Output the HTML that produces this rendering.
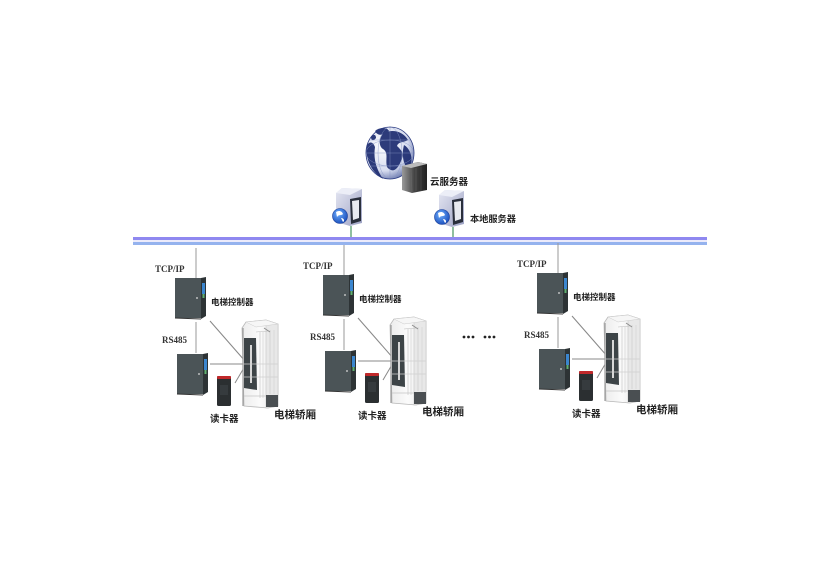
<!DOCTYPE html>
<html><head><meta charset="utf-8">
<style>
html,body{margin:0;padding:0;background:#fff;}
svg{display:block;}
.t{font-family:"Liberation Sans","Noto Sans CJK SC",sans-serif;font-weight:bold;fill:#222;}
.s{font-family:"Liberation Serif","Noto Serif CJK SC",serif;font-weight:bold;fill:#333;font-size:9px;}
</style></head>
<body>
<svg width="830" height="567" viewBox="0 0 830 567" xmlns="http://www.w3.org/2000/svg">
<defs>
  <radialGradient id="glb" cx="0.38" cy="0.35" r="0.7">
    <stop offset="0" stop-color="#ffffff"/>
    <stop offset="0.7" stop-color="#d6dcef"/>
    <stop offset="1" stop-color="#6a78ad"/>
  </radialGradient>
  <linearGradient id="tower" x1="0" y1="0" x2="1" y2="0">
    <stop offset="0" stop-color="#9a9a9a"/>
    <stop offset="0.5" stop-color="#444"/>
    <stop offset="1" stop-color="#222"/>
  </linearGradient>
  <linearGradient id="srv" x1="0" y1="0" x2="1" y2="1">
    <stop offset="0" stop-color="#e4e6f2"/>
    <stop offset="1" stop-color="#9da2c4"/>
  </linearGradient>
  <radialGradient id="bglobe" cx="0.4" cy="0.35" r="0.7">
    <stop offset="0" stop-color="#6fb0ff"/>
    <stop offset="1" stop-color="#1649b8"/>
  </radialGradient>
  <linearGradient id="elev" x1="0" y1="0" x2="1" y2="0">
    <stop offset="0" stop-color="#ececec"/>
    <stop offset="0.5" stop-color="#fbfbfb"/>
    <stop offset="1" stop-color="#e2e2e2"/>
  </linearGradient>

  <g id="ctrl">
    <rect x="0" y="0" width="26" height="40" fill="#4b5457"/>
    <polygon points="26,0 31,-1 31,38 26,41" fill="#2d3335"/>
    <rect x="27" y="5" width="3" height="11" fill="#3b86cf"/>
    <rect x="27.5" y="16" width="2" height="4" fill="#5fb070"/>
    <circle cx="22" cy="20" r="0.9" fill="#ddd"/>
    <line x1="0" y1="40" x2="26" y2="41" stroke="#333" stroke-width="1"/>
  </g>

  <g id="elevator">
    <path d="M0,8 L4,2 L24,0 L36,4 L36,86 L26,88 L2,86 Z" fill="url(#elev)" stroke="#b8b8b8" stroke-width="0.8"/>
    <polygon points="24,0 36,4 36,86 24,88" fill="#e8e8e8" stroke="#c8c8c8" stroke-width="0.6"/>
    <polygon points="4,2 24,0 36,4 14,7" fill="#f6f6f6" stroke="#ccc" stroke-width="0.5"/>
    <line x1="1" y1="8" x2="1" y2="86" stroke="#9a9a9a" stroke-width="1.2"/>
    <path d="M2,18 L14,18 L15,70 L2,68 Z" fill="#3d4447"/>
    <rect x="8" y="25" width="2" height="38" fill="#d8d8d8"/>
    <line x1="18" y1="12" x2="18" y2="78" stroke="#cfcfcf" stroke-width="0.8"/>
    <line x1="21" y1="12" x2="21" y2="78" stroke="#d8d8d8" stroke-width="0.8"/>
    <line x1="28" y1="10" x2="28" y2="74" stroke="#d0d0d0" stroke-width="0.8"/>
    <line x1="32" y1="10" x2="32" y2="74" stroke="#d6d6d6" stroke-width="0.8"/>
    <line x1="2" y1="44" x2="36" y2="44" stroke="#cfcfcf" stroke-width="0.8"/>
    <line x1="2" y1="57" x2="36" y2="57" stroke="#cfcfcf" stroke-width="0.8"/>
    <line x1="14" y1="12" x2="26" y2="11" stroke="#bbb" stroke-width="0.6"/>
    <path d="M22,8 L28,12" stroke="#888" stroke-width="0.8"/>
    <rect x="24" y="75" width="12" height="12" fill="#4a4f52"/>
    <line x1="2" y1="76" x2="24" y2="76" stroke="#c4c4c4" stroke-width="0.8"/>
  </g>

  <g id="reader">
    <rect x="0" y="0" width="14" height="30" rx="1.5" fill="#2b2f31"/>
    <rect x="0" y="0" width="14" height="3" rx="1" fill="#c0282a"/>
    <rect x="3" y="9" width="8" height="10" fill="#363b3e"/>
  </g>

  <g id="group">
    <line x1="344" y1="245" x2="344" y2="275" stroke="#9a9a9a" stroke-width="1"/>
    <line x1="344" y1="319" x2="344" y2="350" stroke="#9a9a9a" stroke-width="1"/>
    <line x1="358" y1="318" x2="393" y2="358" stroke="#888" stroke-width="1"/>
    <line x1="358" y1="361" x2="393" y2="361" stroke="#888" stroke-width="1"/>
    <line x1="383" y1="380" x2="393" y2="363" stroke="#888" stroke-width="1"/>
    <use href="#elevator" x="390" y="317"/>
    <use href="#ctrl" x="323" y="275"/>
    <use href="#ctrl" x="325" y="351"/>
    <use href="#reader" x="365" y="373"/>
    <text class="s" x="303" y="269">TCP/IP</text>
    <text class="s" x="310" y="340">RS485</text>
    <text class="t" x="359" y="302" font-size="8.5">电梯控制器</text>
    <text class="t" x="358" y="419" font-size="9.5">读卡器</text>
    <text class="t" x="422" y="415" font-size="10.5">电梯轿厢</text>
  </g>
</defs>

<!-- bus -->
<rect x="133" y="237" width="574" height="3" fill="#8f88f0"/>
<rect x="133" y="240" width="574" height="2" fill="#ecebfb"/>
<rect x="133" y="242" width="574" height="3" fill="#95b3ee"/>

<!-- globe -->
<ellipse cx="390" cy="153" rx="24" ry="26" fill="url(#glb)"/>
<g fill="#1d2c70" opacity="0.92">
  <path d="M367,145 C365,157 370,171 383,179 C377,170 373,160 375,147 C373,142 370,141 367,145 Z"/>
  <path d="M384,133 C392,129 403,131 408,140 C403,143 399,141 397,146 C401,150 405,153 401,161 C397,171 392,173 387,167 C385,159 389,153 383,149 C378,146 379,137 384,133 Z"/>
  <path d="M404,145 C411,149 414,160 409,170 C404,166 401,156 404,145 Z"/>
  <path d="M375,131 C380,127 387,127 389,131 C384,135 378,137 375,131 Z"/>
  <path d="M371,137 C373,134 376,134 376,138 C374,141 371,141 371,137 Z"/>
</g>
<g stroke="#8594c4" stroke-width="0.5" fill="none" opacity="0.8">
  <ellipse cx="390" cy="153" rx="12" ry="26"/>
  <ellipse cx="390" cy="153" rx="24" ry="13"/>
  <line x1="390" y1="127" x2="390" y2="179"/>
  <line x1="366" y1="153" x2="414" y2="153"/>
  <line x1="369" y1="140" x2="411" y2="140"/>
  <line x1="369" y1="166" x2="411" y2="166"/>
</g>
<ellipse cx="390" cy="153" rx="24" ry="26" fill="none" stroke="#2a3a80" stroke-width="0.8"/>

<!-- cloud server tower -->
<polygon points="402,166 418,162 427,164 427,190 412,193 402,190" fill="url(#tower)"/>
<polygon points="402,166 418,162 427,164 411,168" fill="#bbb"/>
<line x1="411" y1="168" x2="412" y2="193" stroke="#666" stroke-width="0.7"/>
<line x1="416" y1="168" x2="416" y2="191" stroke="#666" stroke-width="0.5"/>
<line x1="421" y1="167" x2="421" y2="191" stroke="#555" stroke-width="0.5"/>
<text class="t" x="430" y="185" font-size="9.5">云服务器</text>

<!-- local server 1 -->
<line x1="351" y1="226" x2="351" y2="237" stroke="#8fbf9f" stroke-width="2"/>
<polygon points="336,193 342,188 362,189 362,223 350,226 336,222" fill="url(#srv)"/>
<polygon points="336,193 342,188 362,189 350,195" fill="#eceef7"/>
<polygon points="350,199 361,197 361,221 351,224" fill="#2a2f3c"/>
<polygon points="352,201 359,200 359,218 353,220" fill="#e8eaf0"/>
<circle cx="340" cy="216" r="7.5" fill="url(#bglobe)" stroke="#1a3d96" stroke-width="0.6"/>
<path d="M336,212 C339,210 342,211 343,214 C341,216 339,214 337,217 Z M341,218 C344,218 345,221 343,222 Z" fill="#fff"/>

<!-- local server 2 -->
<line x1="453" y1="227" x2="453" y2="237" stroke="#8fbf9f" stroke-width="2"/>
<polygon points="439,195 445,190 464,191 464,224 452,227 439,223" fill="url(#srv)"/>
<polygon points="439,195 445,190 464,191 452,197" fill="#eceef7"/>
<polygon points="452,200 463,198 463,222 453,225" fill="#2a2f3c"/>
<polygon points="454,202 461,201 461,219 455,221" fill="#e8eaf0"/>
<circle cx="442" cy="217" r="7.5" fill="url(#bglobe)" stroke="#1a3d96" stroke-width="0.6"/>
<path d="M438,213 C441,211 444,212 445,215 C443,217 441,215 439,218 Z M443,219 C446,219 447,222 445,223 Z" fill="#fff"/>
<text class="t" x="470" y="222" font-size="9.2">本地服务器</text>

<!-- groups -->
<use href="#group" x="-148" y="3"/>
<use href="#group" x="0" y="0"/>
<use href="#group" x="214" y="-2"/>

<!-- dots -->
<g fill="#222">
  <circle cx="464" cy="337" r="1.4"/><circle cx="468.5" cy="337" r="1.4"/><circle cx="473" cy="337" r="1.4"/>
  <circle cx="485" cy="337" r="1.4"/><circle cx="489.5" cy="337" r="1.4"/><circle cx="494" cy="337" r="1.4"/>
</g>
</svg>
</body></html>
